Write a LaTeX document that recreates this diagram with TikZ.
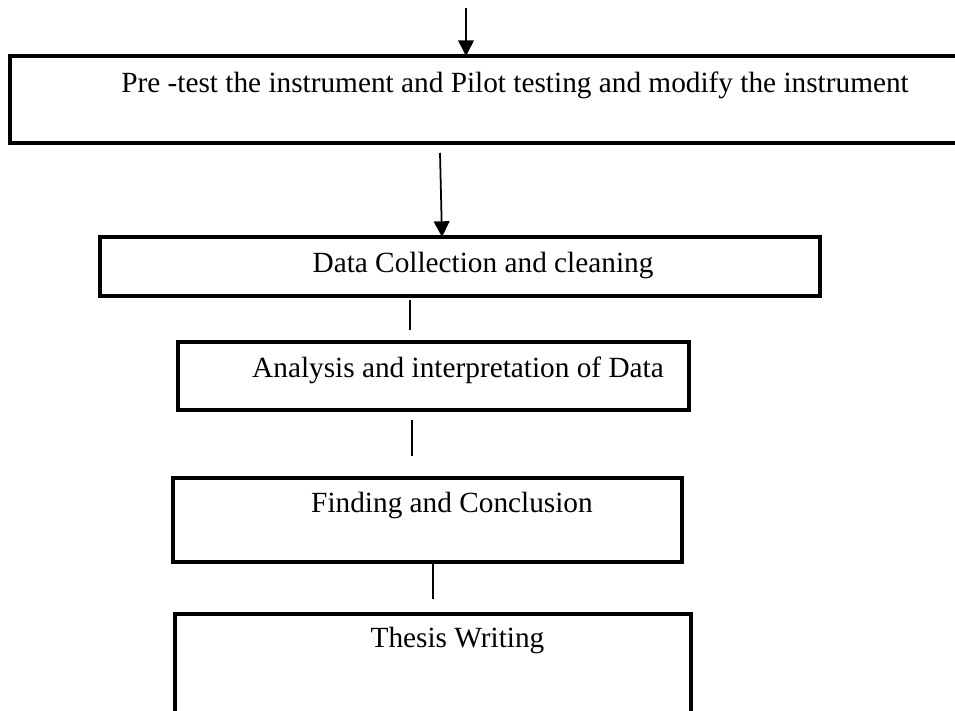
\documentclass[tikz,border=0pt]{standalone}
\usepackage{fontspec}
\setmainfont{Liberation Serif}
\usetikzlibrary{positioning}
\usetikzlibrary{calc,arrows.meta}

\begin{document}
\begin{tikzpicture}[x=0.03cm, y=-0.03cm,
		stage/.style={draw=black, line width=4pt, rectangle, outer sep=0pt, inner sep=0pt},
		caption/.style={inner sep=0pt, font=\fontsize{25}{30}\selectfont},
		flow/.style={line width=1.5pt, -{Triangle[length=0.47cm, width=0.47cm]}},
		link/.style={line width=1.5pt}]
		\fill[white] (0,0) rectangle (955,711);
		\useasboundingbox (0,0) rectangle (955,711);
		\coordinate (S) at (466,8);

		\node[stage, minimum width=29.4cm, minimum height=2.61cm] (A) at (500,99.5) {};
		\node[stage, minimum width=21.6cm, minimum height=1.77cm] (B) at (460,266.5) {};
		\node[stage, minimum width=15.33cm, minimum height=2.04cm] (C) at (433.5,376) {};
		\node[stage, minimum width=15.27cm, minimum height=2.52cm] (D) at (427.5,520) {};
		\node[stage, minimum width=15.48cm, minimum height=3.78cm] (E) at (433,677) {};

		\node[caption] (a) at (515,85) {Pre -test the instrument and Pilot testing and modify the instrument};
		\node[caption] (b) at (483,265) {Data Collection and cleaning};
		\node[caption] (c) at (458,370) {Analysis and interpretation of Data};
		\node[caption] (d) at (452,505) {Finding and Conclusion};
		\node[caption] (e) at (457.5,640) {Thesis Writing};

		\draw[flow] (S) -- (S |- A.north);
		\draw[flow] ([shift={(-60,10)}]A.south) -- ([xshift=-0.54cm]B.north);
		\draw[link] ([shift={(-50,4)}]B.south) -- ([shift={(-23.5,-12)}]C.north);
		\draw[link] ([shift={(-21.5,10)}]C.south) -- ([shift={(-15.5,-22)}]D.north);
		\draw[link] ([shift={(5.5,2)}]D.south) -- ([shift={(0,-15)}]E.north);
	\end{tikzpicture}
\end{document}
